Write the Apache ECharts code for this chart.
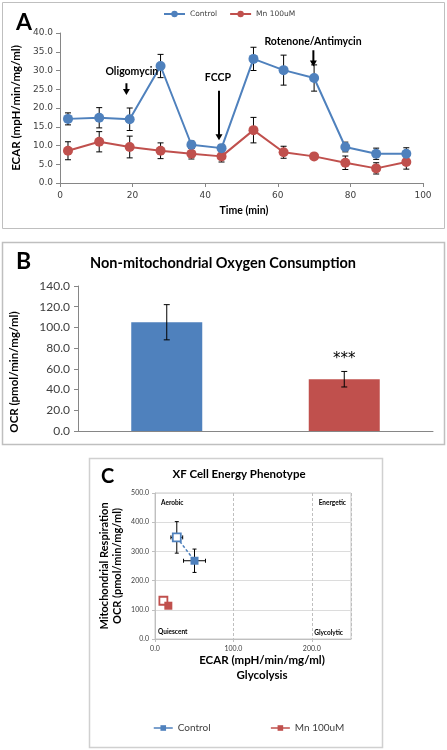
<!DOCTYPE html>
<html><head><meta charset="utf-8">
<script src="https://cdn.jsdelivr.net/npm/echarts@6/dist/echarts.min.js"></script>
<style>html,body{margin:0;padding:0;background:#fff}#c{width:447px;height:750px}</style>
</head><body><div id="c"></div>
<script>
// ---------- Panel A data ----------
const timeMin = [2.2, 10.8, 19.2, 27.7, 36.2, 44.5, 53.3, 61.6, 70.0, 78.6, 87.1, 95.4];
const controlEcar = [17.1, 17.4, 17.0, 31.2, 10.2, 9.3, 33.1, 30.1, 28.0, 9.6, 7.8, 7.8];
const controlEcarErr = [1.6, 2.7, 3.0, 3.1, 1.0, 1.0, 3.1, 4.0, 3.5, 1.3, 1.5, 1.6];
const mnEcar = [8.6, 11.0, 9.6, 8.6, 7.8, 7.1, 14.1, 8.2, 7.1, 5.4, 3.9, 5.6];
const mnEcarErr = [2.4, 2.7, 2.9, 2.1, 1.4, 1.5, 3.4, 1.6, 0.6, 1.8, 1.5, 1.9];
const injections = ['Oligomycin', 'FCCP', 'Rotenone/Antimycin'];
const injectionTime = [18.3, 43.8, 69.8];
const arrowTop = [26.6, 24.6, 35.4];
const arrowTip = [23.5, 11.4, 31.1];
const labelTime = [19.8, 43.5, 69.7];
const labelLevel = [29.6, 28.0, 37.6];
const seriesNames = ['Control', 'Mn 100uM'];

// ---------- Panel B data ----------
const groupsB = ['Control', 'Mn 100uM'];
const nonMitoOcr = [105, 50];
const nonMitoErr = [17, 7.5];
const significance = ['', '***'];

// ---------- Panel C data ----------
const controlPhenoEcar = [27.8, 50.4];
const controlPhenoOcr = [348, 268];
const controlPhenoEcarErr = [7.5, 14];
const controlPhenoOcrErr = [54, 40];
const mnPhenoEcar = [10.7, 17.0];
const mnPhenoOcr = [131, 114];
const mnPhenoEcarErr = [3, 3];
const mnPhenoOcrErr = [13, 9];
const quadrantNames = ['Aerobic', 'Energetic', 'Quiescent', 'Glycolytic'];

const BLUE = '#4f81bd', RED = '#c0504d', AX = '#868686', TXT = '#404040';
const F = 'Lato';

function errRender(params, api) {
  const x = api.value(0), y = api.value(1), ey = api.value(2), ex = api.value(3) || 0;
  const cap = api.value(4) || 3;
  const children = [];
  const top = api.coord([x, y + ey]), bot = api.coord([x, y - ey]);
  const st = { stroke: '#000', lineWidth: 1 };
  children.push({ type: 'line', shape: { x1: top[0], y1: top[1], x2: bot[0], y2: bot[1] }, style: st });
  children.push({ type: 'line', shape: { x1: top[0] - cap, y1: top[1], x2: top[0] + cap, y2: top[1] }, style: st });
  children.push({ type: 'line', shape: { x1: bot[0] - cap, y1: bot[1], x2: bot[0] + cap, y2: bot[1] }, style: st });
  if (ex) {
    const l = api.coord([x - ex, y]), r = api.coord([x + ex, y]);
    children.push({ type: 'line', shape: { x1: l[0], y1: l[1], x2: r[0], y2: r[1] }, style: st });
    children.push({ type: 'line', shape: { x1: l[0], y1: l[1] - cap, x2: l[0], y2: l[1] + cap }, style: st });
    children.push({ type: 'line', shape: { x1: r[0], y1: r[1] - cap, x2: r[0], y2: r[1] + cap }, style: st });
  }
  return { type: 'group', children };
}

const chart = echarts.init(document.getElementById('c'));
const lab = (v) => v.toFixed(1);

const option = {
  animation: false,
  textStyle: { fontFamily: F },
  graphic: [
    { type: 'rect', shape: { x: 2.5, y: 2.5, width: 442, height: 226 }, style: { fill: 'none', stroke: '#bfbfbf', lineWidth: 1 }, silent: true },
    { type: 'rect', shape: { x: 2.5, y: 242.5, width: 442, height: 202 }, style: { fill: 'none', stroke: '#bfbfbf', lineWidth: 1.5 }, silent: true },
    { type: 'rect', shape: { x: 89.5, y: 458.5, width: 293, height: 289 }, style: { fill: 'none', stroke: '#d0d0d0', lineWidth: 1.5 }, silent: true },
    { type: 'text', left: 16, top: 11, style: { text: 'A', font: 'bold 23px Lato', fill: '#000' } },
    { type: 'text', left: 16, top: 250, style: { text: 'B', font: 'bold 23px Lato', fill: '#000' } },
    { type: 'text', left: 101, top: 467, style: { text: 'C', font: 'bold 20px Lato', fill: '#000' } },
    { type: 'text', x: 244, y: 211, style: { text: 'Time (min)', font: 'bold 10.5px Lato', fill: '#000', textAlign: 'center', textVerticalAlign: 'middle' } },
    { type: 'text', x: 223, y: 263, style: { text: 'Non-mitochondrial Oxygen Consumption', font: 'bold 14.5px Lato', fill: '#000', textAlign: 'center', textVerticalAlign: 'middle' } },
    { type: 'text', x: 14, y: 372, rotation: Math.PI / 2, style: { text: 'OCR (pmol/min/mg/ml)', font: 'bold 11.5px Lato', fill: '#000', textAlign: 'center', textVerticalAlign: 'middle' } },
    { type: 'text', x: 239, y: 474, style: { text: 'XF Cell Energy Phenotype', font: 'bold 11.5px Lato', fill: '#000', textAlign: 'center', textVerticalAlign: 'middle' } },
    { type: 'text', x: 262, y: 660, style: { text: 'ECAR (mpH/min/mg/ml)', font: 'bold 11.5px Lato', fill: '#000', textAlign: 'center', textVerticalAlign: 'middle' } },
    { type: 'text', x: 262, y: 675, style: { text: 'Glycolysis', font: 'bold 11.5px Lato', fill: '#000', textAlign: 'center', textVerticalAlign: 'middle' } },
    { type: 'text', x: 161, y: 503, style: { text: quadrantNames[0], font: 'bold 6.5px Lato', fill: '#000', textVerticalAlign: 'middle' } },
    { type: 'text', x: 346, y: 503, style: { text: quadrantNames[1], font: 'bold 6.5px Lato', fill: '#000', textAlign: 'right', textVerticalAlign: 'middle' } },
    { type: 'text', x: 158, y: 632, style: { text: quadrantNames[2], font: 'bold 6.5px Lato', fill: '#000', textVerticalAlign: 'middle' } },
    { type: 'text', x: 343, y: 633, style: { text: quadrantNames[3], font: 'bold 6.5px Lato', fill: '#000', textAlign: 'right', textVerticalAlign: 'middle' } }
  ],
  legend: [
    { left: 163, top: 10, itemWidth: 21, itemHeight: 8, itemGap: 12, data: seriesNames,
      textStyle: { fontFamily: 'DejaVu Sans', fontSize: 7.5, color: TXT }, padding: 0 },
    { left: 153, top: 723, itemWidth: 19, itemHeight: 7, itemGap: 57, data: ['Control ', 'Mn 100uM '],
      lineStyle: { type: 'solid', width: 1.5 }, textStyle: { fontFamily: F, fontSize: 10, color: TXT }, padding: 0 }
  ],
  grid: [
    { left: 60, top: 33, width: 363, height: 150 },
    { left: 78, top: 286, width: 355, height: 145 },
    { left: 155, top: 493, width: 196, height: 146, show: true, borderColor: '#c8c8c8', borderWidth: 1 }
  ],
  xAxis: [
    { gridIndex: 0, type: 'value', min: 0, max: 100, interval: 20, splitLine: { show: false },
      axisLine: { lineStyle: { color: AX } }, axisTick: { lineStyle: { color: AX }, length: 4 },
      axisLabel: { fontFamily: 'DejaVu Sans', fontSize: 9, color: TXT, margin: 8 } },
    { gridIndex: 1, type: 'category', data: groupsB, axisTick: { show: false }, axisLabel: { show: false },
      axisLine: { lineStyle: { color: AX, width: 1 } } },
    { gridIndex: 2, type: 'value', min: 0, max: 250, interval: 100, splitLine: { show: true, lineStyle: { color: '#bfbfbf', type: [3, 2] } },
      axisLine: { lineStyle: { color: '#bfbfbf' } }, axisTick: { lineStyle: { color: '#bfbfbf' }, length: 3 },
      axisLabel: { fontSize: 7, color: TXT, margin: 6, formatter: lab, showMaxLabel: false } }
  ],
  yAxis: [
    { gridIndex: 0, type: 'value', min: 0, max: 40, interval: 5, splitLine: { show: false },
      axisLine: { show: true, lineStyle: { color: AX } }, axisTick: { show: true, lineStyle: { color: AX }, length: 4 },
      axisLabel: { fontFamily: 'DejaVu Sans', fontSize: 9, color: TXT, margin: 7, formatter: lab },
      name: 'ECAR (mpH/min/mg/ml)', nameLocation: 'middle', nameGap: 28, nameRotate: 90,
      nameTextStyle: { fontFamily: F, fontWeight: 'bold', fontSize: 11.5, color: '#000' } },
    { gridIndex: 1, type: 'value', min: 0, max: 140, interval: 20, splitLine: { show: false },
      axisLine: { show: true, lineStyle: { color: AX } }, axisTick: { show: true, lineStyle: { color: AX }, length: 4 },
      axisLabel: { fontSize: 12, color: TXT, margin: 8, formatter: lab } },
    { gridIndex: 2, type: 'value', min: 0, max: 500, interval: 100, splitLine: { show: true, lineStyle: { color: '#dcdcdc' } },
      axisLine: { show: true, lineStyle: { color: '#bfbfbf' } }, axisTick: { show: true, lineStyle: { color: '#bfbfbf' }, length: 3 },
      axisLabel: { fontSize: 7, color: TXT, margin: 6, formatter: lab },
      name: 'Mitochondrial Respiration\nOCR (pmol/min/mg/ml)', nameLocation: 'middle', nameGap: 31, nameRotate: 90,
      nameTextStyle: { fontWeight: 'bold', fontSize: 11, color: '#000', lineHeight: 13 } }
  ],
  series: [
    // Panel A error bars
    { type: 'custom', xAxisIndex: 0, yAxisIndex: 0, z: 1, renderItem: errRender,
      data: timeMin.map((t, i) => [t, controlEcar[i], controlEcarErr[i], 0, 3]) },
    { type: 'custom', xAxisIndex: 0, yAxisIndex: 0, z: 1, renderItem: errRender,
      data: timeMin.map((t, i) => [t, mnEcar[i], mnEcarErr[i], 0, 3]) },
    // Panel A lines
    { name: seriesNames[0], type: 'line', xAxisIndex: 0, yAxisIndex: 0, z: 3, symbol: 'circle', symbolSize: 10,
      lineStyle: { color: BLUE, width: 2 }, itemStyle: { color: BLUE },
      data: timeMin.map((t, i) => [t, controlEcar[i]]) },
    { name: seriesNames[1], type: 'line', xAxisIndex: 0, yAxisIndex: 0, z: 2, symbol: 'circle', symbolSize: 10,
      lineStyle: { color: RED, width: 2 }, itemStyle: { color: RED },
      data: timeMin.map((t, i) => [t, mnEcar[i]]) },
    // Panel A injection arrows
    { type: 'custom', xAxisIndex: 0, yAxisIndex: 0, z: 5,
      data: injections.map((n, i) => [injectionTime[i], arrowTop[i], arrowTip[i], labelTime[i], labelLevel[i]]),
      renderItem: function (params, api) {
        const i = params.dataIndex;
        const a = api.coord([api.value(0), api.value(1)]);
        const b = api.coord([api.value(0), api.value(2)]);
        const l = api.coord([api.value(3), api.value(4)]);
        return { type: 'group', children: [
          { type: 'line', shape: { x1: a[0], y1: a[1], x2: b[0], y2: b[1] - 5 }, style: { stroke: '#000', lineWidth: 2 } },
          { type: 'polygon', shape: { points: [[b[0] - 3.5, b[1] - 6], [b[0] + 3.5, b[1] - 6], [b[0], b[1]]] }, style: { fill: '#000' } },
          { type: 'text', x: l[0], y: l[1], style: { text: injections[i], font: 'bold 10.5px Lato', fill: '#000', textAlign: 'center', textVerticalAlign: 'middle' } }
        ] };
      } },
    // Panel B bars
    { type: 'bar', xAxisIndex: 1, yAxisIndex: 1, barWidth: '40%',
      data: nonMitoOcr.map((v, i) => ({ value: v, itemStyle: { color: i === 0 ? BLUE : RED } })) },
    { type: 'custom', xAxisIndex: 1, yAxisIndex: 1, z: 5,
      data: nonMitoOcr.map((v, i) => [i, v, nonMitoErr[i], 0, 3]),
      renderItem: function (params, api) {
        const g = errRender(params, api);
        const s = significance[params.dataIndex];
        if (s) {
          const p = api.coord([api.value(0), api.value(1) + api.value(2)]);
          g.children.push({ type: 'text', x: p[0], y: p[1] - 12, style: { text: s, font: '15px "DejaVu Sans"', fill: '#000', textAlign: 'center', textVerticalAlign: 'middle' } });
        }
        return g;
      } },
    // Panel C error bars
    { type: 'custom', xAxisIndex: 2, yAxisIndex: 2, z: 1, renderItem: errRender,
      data: controlPhenoEcar.map((x, i) => [x, controlPhenoOcr[i], controlPhenoOcrErr[i], controlPhenoEcarErr[i], 2]) },
    { type: 'custom', xAxisIndex: 2, yAxisIndex: 2, z: 1, renderItem: errRender,
      data: mnPhenoEcar.map((x, i) => [x, mnPhenoOcr[i], mnPhenoOcrErr[i], mnPhenoEcarErr[i], 2]) },
    // Panel C phenotype points
    { name: 'Control ', type: 'line', xAxisIndex: 2, yAxisIndex: 2, z: 3, symbol: 'rect', symbolSize: 8,
      lineStyle: { color: BLUE, width: 1.5, type: [3, 2] }, itemStyle: { color: BLUE },
      data: controlPhenoEcar.map((x, i) => (i === 0
        ? { value: [x, controlPhenoOcr[i]], itemStyle: { color: '#fff', borderColor: BLUE, borderWidth: 1.8 } }
        : { value: [x, controlPhenoOcr[i]] })) },
    { name: 'Mn 100uM ', type: 'line', xAxisIndex: 2, yAxisIndex: 2, z: 3, symbol: 'rect', symbolSize: 8,
      lineStyle: { color: RED, width: 1.5, type: [3, 2] }, itemStyle: { color: RED },
      data: mnPhenoEcar.map((x, i) => (i === 0
        ? { value: [x, mnPhenoOcr[i]], itemStyle: { color: '#fff', borderColor: RED, borderWidth: 1.8 } }
        : { value: [x, mnPhenoOcr[i]] })) }
  ]
};
chart.setOption(option);
</script></body></html>
